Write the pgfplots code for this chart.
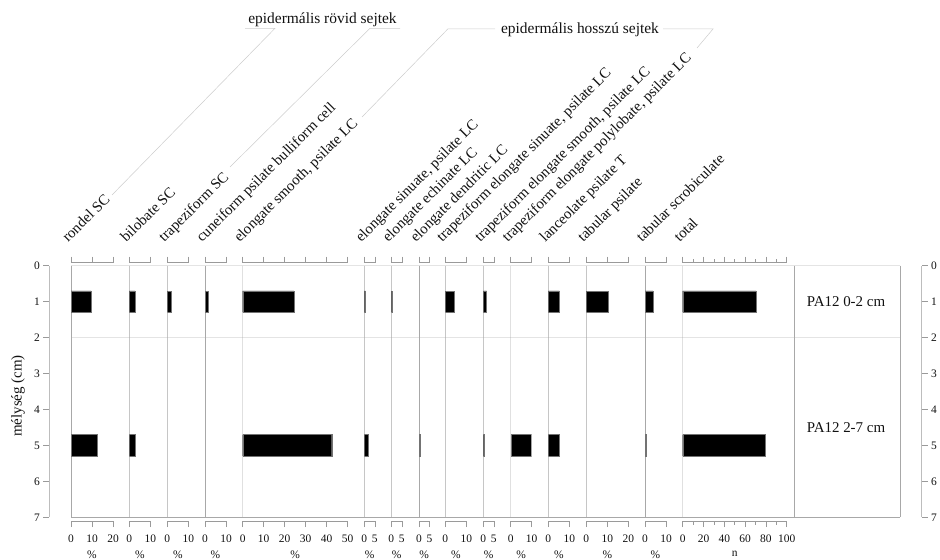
\documentclass[border=0pt]{standalone}
\usepackage{fontspec}
\setmainfont{Liberation Serif}
\usepackage{pgfplots}
\pgfplotsset{compat=1.18}
\definecolor{zl}{HTML}{A8A8A8}
\definecolor{hl}{HTML}{E4E4E4}
\definecolor{tk}{HTML}{9A9A9A}
\definecolor{txt}{HTML}{111111}
\newcommand\lab{\fontsize{15}{18}\selectfont}
\newcommand\tkf{\fontsize{11.5}{13}\selectfont}
\pgfplotsset{
 panel/.style={scale only axis, height=258.3bp, anchor=center, ymin=-0.0835, ymax=7.103,
   y dir=reverse, enlargelimits=false, axis line style={draw=none}, ytick=\empty,
   tick align=outside, major tick length=6bp, minor tick length=3.5bp,
   tick style={color=tk, line width=0.5pt},
   xticklabel style={font=\tkf, text=txt, yshift=-4bp}, /pgf/number format/assume math mode=true,
   xlabel style={font=\tkf, text=txt, yshift=-1.5bp}, xlabel={\%}},
 bars/.style={xbar, bar width=0.6, bar shift=0pt, fill=black, draw=black!55, line width=0.4pt},
 yax/.style={scale only axis, width=1bp, height=251.6bp, anchor=center, xmin=0, xmax=1,
   ymin=0, ymax=7, y dir=reverse, enlargelimits=false, axis line style={draw=none},
   xtick=\empty, ytick={0,...,7}, tick align=outside, major tick length=6bp,
   tick style={color=tk, line width=0.5pt}, yticklabel style={font=\tkf, text=txt},
   /pgf/number format/assume math mode=true}
}
\newcommand\stratpanel[5]{%
\begin{axis}[panel, at={({(#1+#2/2)*1bp},-391.85bp)}, width=#2bp, xmin=0, xmax=#3, #4]
\draw[zl, line width=0.6pt] (axis cs:0,0) -- (axis cs:0,7);
\draw[tk, line width=0.5pt] (rel axis cs:0,0) -- (rel axis cs:1,0);
\draw[tk, line width=0.5pt] (rel axis cs:0,1) -- (rel axis cs:1,1);
\addplot[bars] coordinates {#5};
\end{axis}}
\begin{document}
\begin{tikzpicture}[x=1bp, y=-1bp]
\path[use as bounding box] (0,0) rectangle (940,560);
% frame lines
\draw[hl, line width=0.6pt] (71,265.7) -- (900,265.7);
\draw[hl, line width=0.6pt] (71,337.6) -- (900,337.6);
\draw[zl, line width=0.6pt] (71,517.3) -- (900,517.3);
\draw[zl, line width=0.6pt] (794.3,265.7) -- (794.3,517.3);
\draw[zl, line width=0.6pt] (900,265.7) -- (900,517.3);
% panels: left px, width px, max, ticks, data (value, depth)
\stratpanel{71}{42}{20}{xtick={0,10,20}}{(9.6,1) (12.4,5)}
\stratpanel{129.3}{21}{10}{xtick={0,10}}{(2.8,1) (2.8,5)}
\stratpanel{167.3}{21}{10}{xtick={0,10}}{(1.7,1)}
\stratpanel{205}{21}{10}{xtick={0,10}}{(1.7,1)}
\stratpanel{242.7}{105}{50}{xtick={0,10,...,50}}{(24.4,1) (42.4,5)}
\stratpanel{364.3}{10.5}{5}{xtick={0,5}}{(0.5,1) (1.9,5)}
\stratpanel{391.3}{10.5}{5}{xtick={0,5}}{(0.5,1)}
\stratpanel{419}{10.5}{5}{xtick={0,5}}{(0.5,5)}
\stratpanel{445.3}{21}{10}{xtick={0,10}}{(4.0,1)}
\stratpanel{483.3}{10.5}{5}{xtick={0,5}}{(1.6,1) (0.5,5)}
\stratpanel{510.7}{21}{10}{xtick={0,10}}{(9.6,5)}
\stratpanel{548.3}{21}{10}{xtick={0,10}}{(5.3,1) (5.3,5)}
\stratpanel{586.3}{42}{20}{xtick={0,10,20}}{(10.6,1)}
\stratpanel{645}{21}{10}{xtick={0,10}}{(3.7,1) (0.5,5)}
\stratpanel{682.7}{104}{100}{xtick={0,20,...,100}, minor xtick={10,30,...,90}, xlabel={n}}{(70.5,1) (79,5)}
% depth axes
\begin{axis}[yax, at={(49.8bp,-391.5bp)}, ytick pos=left]
\draw[tk, line width=0.5pt] (rel axis cs:0,0) -- (rel axis cs:0,1);
\end{axis}
\begin{axis}[yax, at={(921.2bp,-391.5bp)}, ytick pos=right, yticklabel pos=right]
\draw[tk, line width=0.5pt] (rel axis cs:1,0) -- (rel axis cs:1,1);
\end{axis}
\node[rotate=90, font=\lab, text=txt] at (18,396) {mélység (cm)};
% sample labels
\node[font=\lab, text=txt] at (846,301.6) {PA12 0-2 cm};
\node[font=\lab, text=txt] at (846,427.4) {PA12 2-7 cm};
% rotated taxon labels
\foreach \x/\t in {71/rondel SC, 129.3/bilobate SC, 167.3/trapeziform SC,
  205/cuneiform psilate bulliform cell, 242.7/{elongate smooth, psilate LC},
  364.3/{elongate sinuate, psilate LC}, 391.3/elongate echinate LC,
  419/elongate dendritic LC, 445.3/{trapeziform elongate sinuate, psilate LC},
  483.3/{trapeziform elongate smooth, psilate LC},
  510.7/{trapeziform elongate polylobate, psilate LC}, 548.3/lanceolate psilate T,
  586.3/tabular psilate, 645/tabular scrobiculate, 682.7/total}
  \node[rotate=45, anchor=base west, font=\lab, text=txt, inner sep=0pt] at ({\x-3},243) {\t};
% group brackets
\draw[hl!60!zl, line width=0.5pt] (112,195) -- (275,28.3) -- (245,28.3);
\draw[hl!60!zl, line width=0.5pt] (230,167) -- (370,28.3) -- (400,28.3);
\draw[hl!60!zl, line width=0.5pt] (362,117) -- (448,28.8) -- (495,28.8);
\draw[hl!60!zl, line width=0.5pt] (697,48) -- (713,29) -- (663,29);
\node[font=\fontsize{15.5}{18}\selectfont, text=txt] at (322.5,20) {epidermális rövid sejtek};
\node[font=\fontsize{15.5}{18}\selectfont, text=txt] at (580,29.5) {epidermális hosszú sejtek};
\end{tikzpicture}
\end{document}
